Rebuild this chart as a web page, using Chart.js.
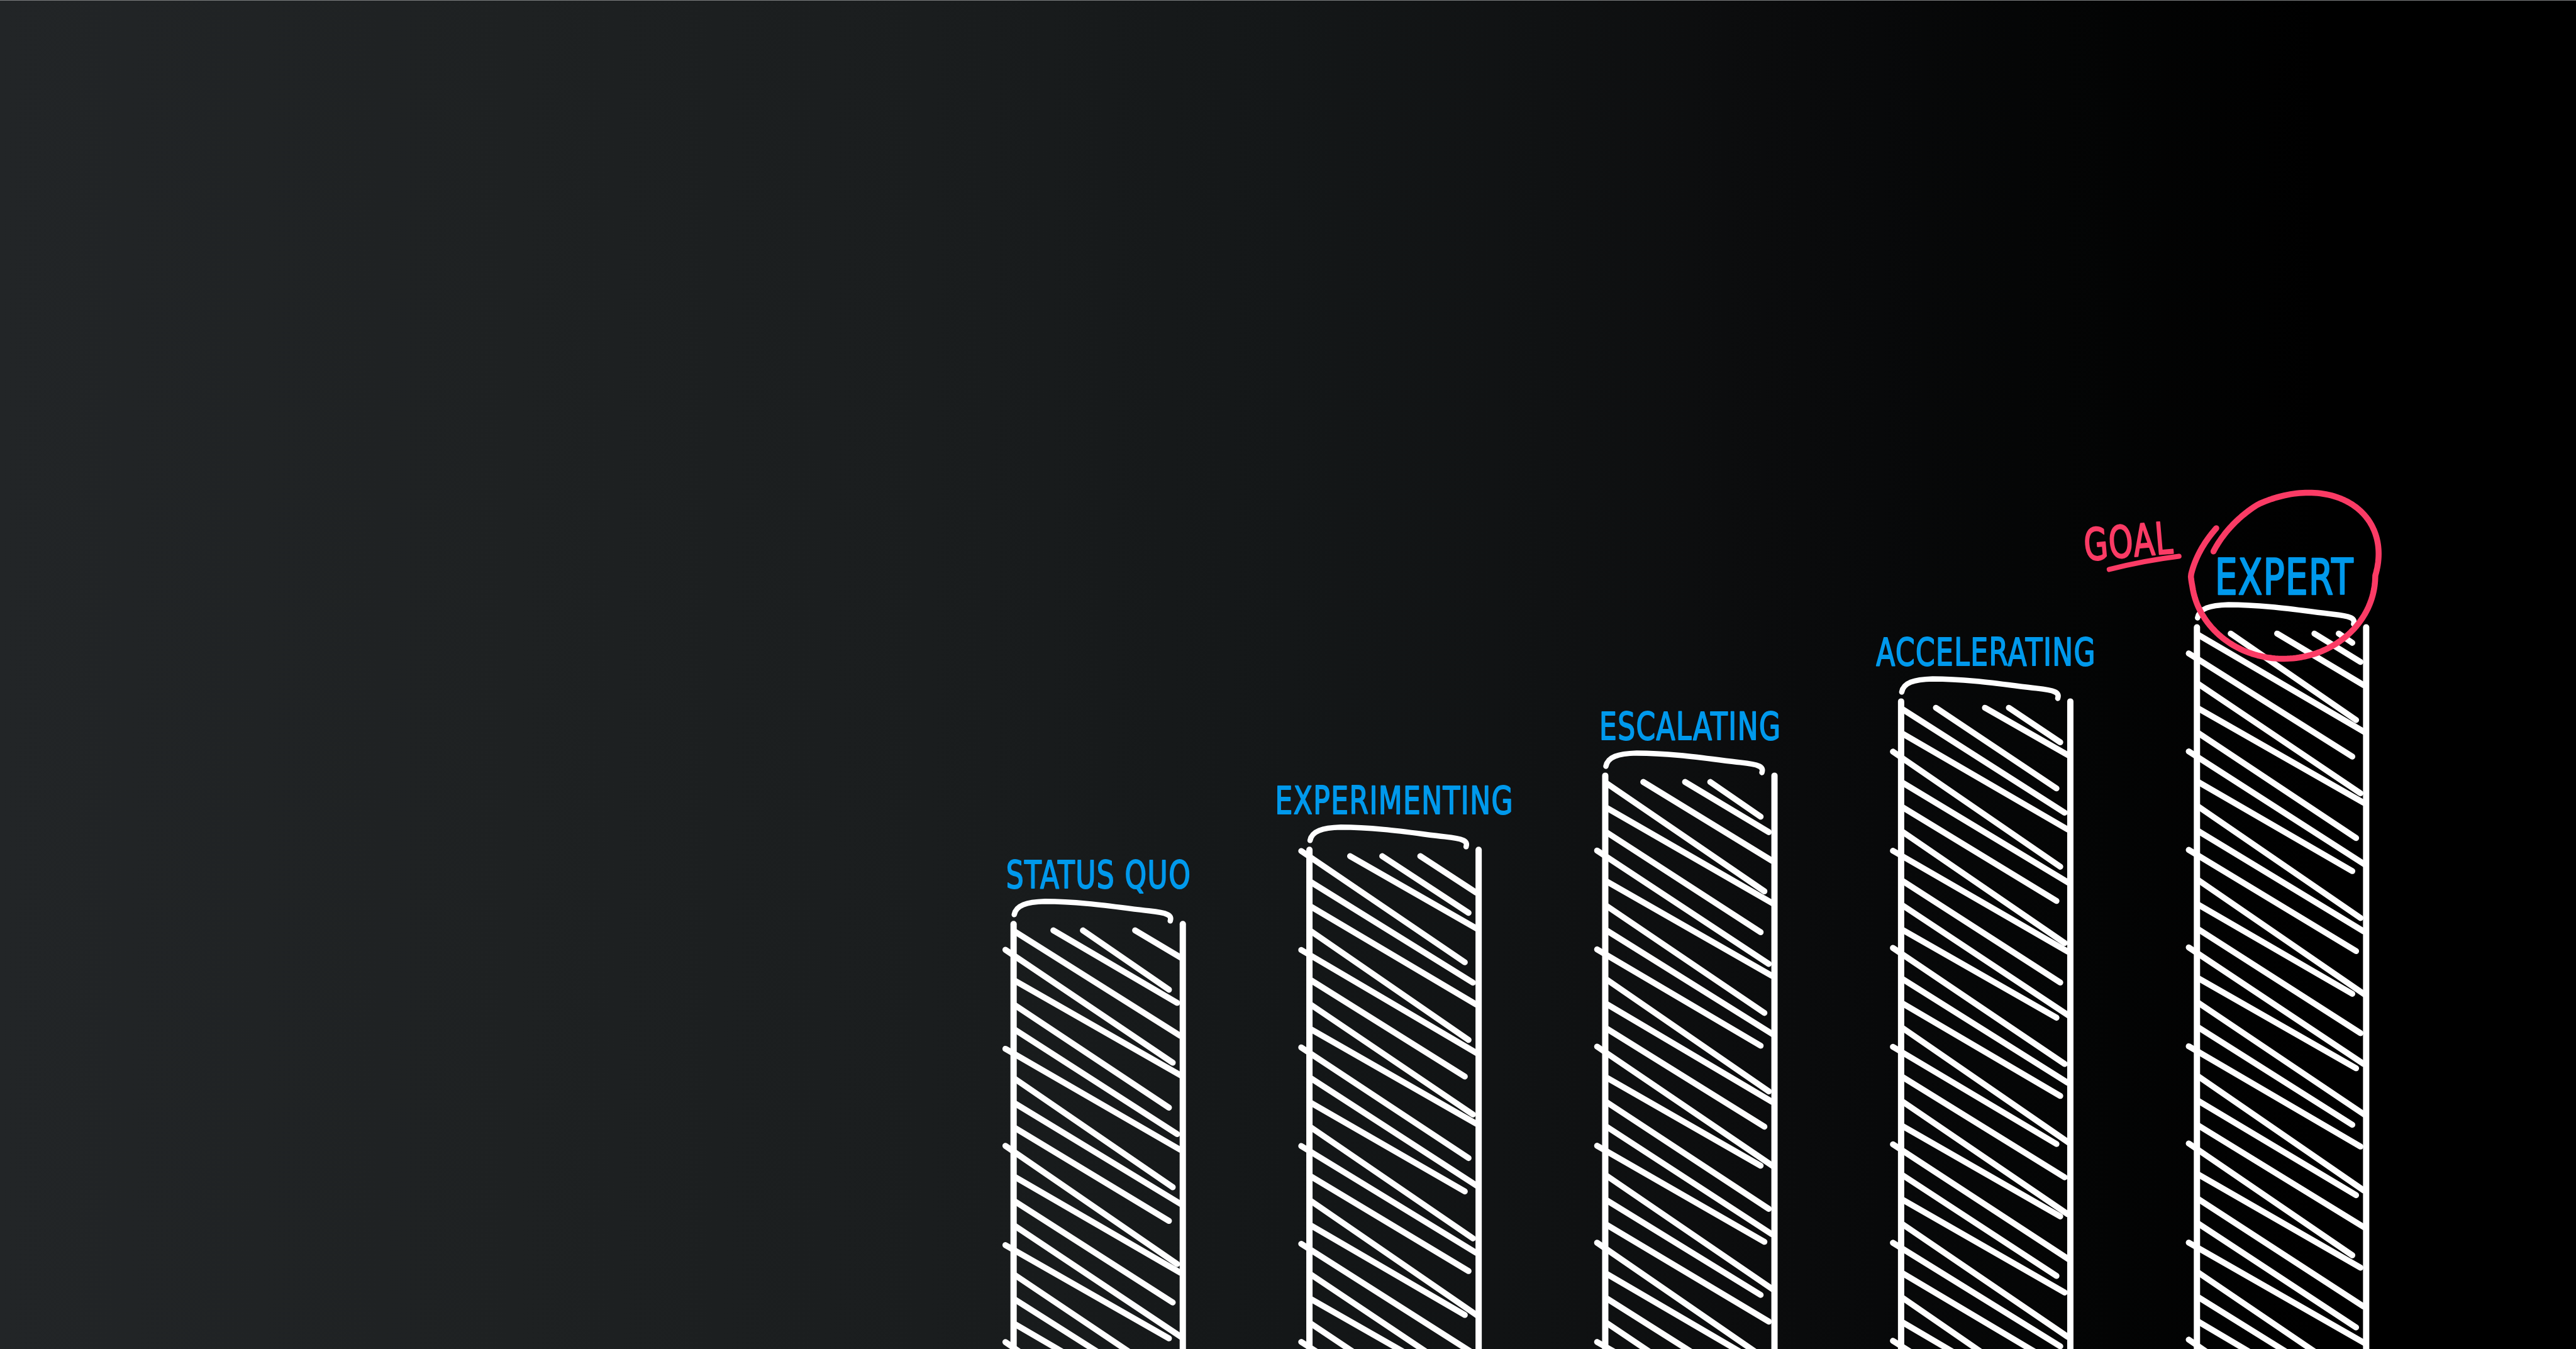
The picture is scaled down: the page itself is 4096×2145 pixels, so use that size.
<!DOCTYPE html>
<html>
<head>
<meta charset="utf-8">
<script src="https://cdn.jsdelivr.net/npm/chart.js@4/dist/chart.umd.min.js"></script>
<style>
html,body{margin:0;padding:0;background:#000;overflow:hidden}
#wrap{width:4096px;height:2145px;position:relative}
</style>
</head>
<body>
<div id="wrap"><canvas id="c" width="4096" height="2145"></canvas></div>
<script>
// ---- data ----
const categories = ['STATUS QUO', 'EXPERIMENTING', 'ESCALATING', 'ACCELERATING', 'EXPERT'];
const maturityLevels = [31.5, 37, 42.5, 48, 53.5];   // bar height, % of the visible height
const goalCategory = 'EXPERT';
const goalText = 'GOAL';
const yRange = [0, 100];

// ---- style ----
const WHITE = '#ffffff';
const BLUE = '#0099ec';
const RED = '#fb3b65';

function bgGradient(ctx, w) {
  const g = ctx.createLinearGradient(0, 0, w, 0);
  g.addColorStop(0.00, '#222527');
  g.addColorStop(0.20, '#1e2122');
  g.addColorStop(0.36, '#1a1d1e');
  g.addColorStop(0.50, '#141718');
  g.addColorStop(0.60, '#101213');
  g.addColorStop(0.67, '#0c0d0e');
  g.addColorStop(0.73, '#08090a');
  g.addColorStop(0.80, '#040505');
  g.addColorStop(0.90, '#000000');
  g.addColorStop(1.00, '#000000');
  return g;
}

function handText(ctx, text, x, y, size, color, sx, rot, spacing) {
  ctx.save();
  ctx.translate(x, y);
  if (rot) ctx.rotate(rot);
  ctx.scale(sx, 1);
  ctx.font = size + 'px "DejaVu Sans"';
  if ('letterSpacing' in ctx) ctx.letterSpacing = (spacing || 0) + 'px';
  ctx.textAlign = 'center';
  ctx.textBaseline = 'alphabetic';
  ctx.fillStyle = color;
  ctx.strokeStyle = color;
  ctx.lineJoin = 'round';
  ctx.lineWidth = size * 0.035;
  const off = (spacing || 0) / 2;
  ctx.fillText(text, off, 0);
  ctx.strokeText(text, off, 0);
  ctx.restore();
}

function drawSketchBar(ctx, el, i, label, isGoal) {
  const p = el.getProps(['x', 'y', 'base', 'width'], true);
  const L = p.x - p.width / 2, R = p.x + p.width / 2, T = p.y, B = p.base;
  const f = p.width / 269;
  ctx.save();
  ctx.strokeStyle = WHITE;
  ctx.lineCap = 'round';
  ctx.lineJoin = 'round';

  // hatching
  ctx.lineWidth = 9.5;
  const sp = 39;
  for (let k = -4; ; k++) {
    const s = 0.63 + 0.06 * Math.sin(k * 2.3 + i);
    const yL = T + 12 + k * sp;
    if (yL > B + 40) break;
    let xs, ys;
    if (yL < T + 10) {
      xs = L + (T + 10 - yL) / s; ys = T + 10;
      if (xs > R - 35) continue;
    } else {
      xs = L + 2; ys = yL;
      if ((k + i) % 4 === 1) { xs = L - 13; ys = yL - 15 * s; }
    }
    const short = [4, 16, 2, 22, 9][((k + 3 * i) % 5 + 5) % 5];
    const xe = R - short;
    const ye = ys + s * (xe - xs);
    ctx.beginPath(); ctx.moveTo(xs, ys); ctx.lineTo(xe, ye); ctx.stroke();
  }

  // outline sides
  ctx.lineWidth = 10;
  ctx.beginPath(); ctx.moveTo(L, T); ctx.lineTo(L, B + 20); ctx.stroke();
  ctx.beginPath(); ctx.moveTo(R, T); ctx.lineTo(R, B + 20); ctx.stroke();

  // cap
  ctx.lineWidth = 8.5;
  ctx.beginPath();
  ctx.moveTo(L + 1 * f, T - 15);
  ctx.bezierCurveTo(L + 4 * f, T - 30, L + 20 * f, T - 35, L + 50 * f, T - 36);
  ctx.bezierCurveTo(L + 110 * f, T - 36, L + 170 * f, T - 26, L + 215 * f, T - 21);
  ctx.bezierCurveTo(L + 245 * f, T - 18, L + 252 * f, T - 14, L + 249 * f, T - 5);
  ctx.stroke();
  ctx.restore();

  // label
  if (isGoal) handText(ctx, label, p.x + 4, T - 52, 78, BLUE, 0.72, 0, 2);
  else handText(ctx, label, p.x, T - 57, 61, BLUE, 0.72, 0, 2);

  if (isGoal) {
    // circle around the goal label
    const cx = p.x + 3, cy = T - 82, rx = 146, ry = 132;
    const t0 = -161 * Math.PI / 180, t1 = 213 * Math.PI / 180;
    ctx.save();
    ctx.strokeStyle = RED; ctx.lineWidth = 9.5; ctx.lineCap = 'round'; ctx.lineJoin = 'round';
    ctx.beginPath();
    const n = 200;
    for (let j = 0; j <= n; j++) {
      const t = t0 + (t1 - t0) * j / n;
      const a = (t - t0) * 180 / Math.PI, b = (t1 - t) * 180 / Math.PI;
      let r = 1;
      if (a < 40) r = 0.9 + 0.1 * a / 40;
      if (b < 40) r = 1 + 0.05 * (1 - b / 40);
      const st = Math.sin(t);
      const shift = st < 0 ? -st * 40 : 0;
      const px = cx + rx * r * Math.cos(t) + shift;
      const py = cy + ry * r * st;
      if (j === 0) ctx.moveTo(px, py); else ctx.lineTo(px, py);
    }
    ctx.stroke();
    ctx.restore();
    // GOAL text + underline
    handText(ctx, goalText, p.x - 242, T - 112, 70, RED, 0.7, -0.085, 2);
    ctx.save();
    ctx.strokeStyle = RED; ctx.lineWidth = 8; ctx.lineCap = 'round';
    ctx.beginPath();
    ctx.moveTo(p.x - 274, T - 92);
    ctx.quadraticCurveTo(p.x - 220, T - 106, p.x - 163, T - 113);
    ctx.stroke();
    ctx.restore();
  }
}

const sketchPlugin = {
  id: 'sketch',
  beforeDraw(chart) {
    const ctx = chart.ctx;
    ctx.save();
    ctx.fillStyle = bgGradient(ctx, chart.width);
    ctx.fillRect(0, 0, chart.width, chart.height);
    ctx.fillStyle = '#7d7f80';
    ctx.fillRect(0, 0, chart.width, 1);
    ctx.restore();
  },
  afterDatasetsDraw(chart) {
    const ctx = chart.ctx;
    const meta = chart.getDatasetMeta(0);
    meta.data.forEach((el, i) => {
      const label = chart.data.labels[i];
      drawSketchBar(ctx, el, i, label, label === goalCategory);
    });
  }
};

new Chart(document.getElementById('c'), {
  type: 'bar',
  data: {
    labels: categories,
    datasets: [{
      data: maturityLevels,
      backgroundColor: 'rgba(0,0,0,0)',
      borderWidth: 0,
      barPercentage: 0.572,
      categoryPercentage: 1
    }]
  },
  options: {
    responsive: false,
    animation: false,
    devicePixelRatio: 1,
    layout: { padding: { left: 1511, right: 233, top: 0, bottom: 0 } },
    scales: {
      x: { display: false, offset: true },
      y: { display: false, min: yRange[0], max: yRange[1] }
    },
    plugins: { legend: { display: false }, tooltip: { enabled: false }, title: { display: false } }
  },
  plugins: [sketchPlugin]
});
</script>
</body>
</html>
